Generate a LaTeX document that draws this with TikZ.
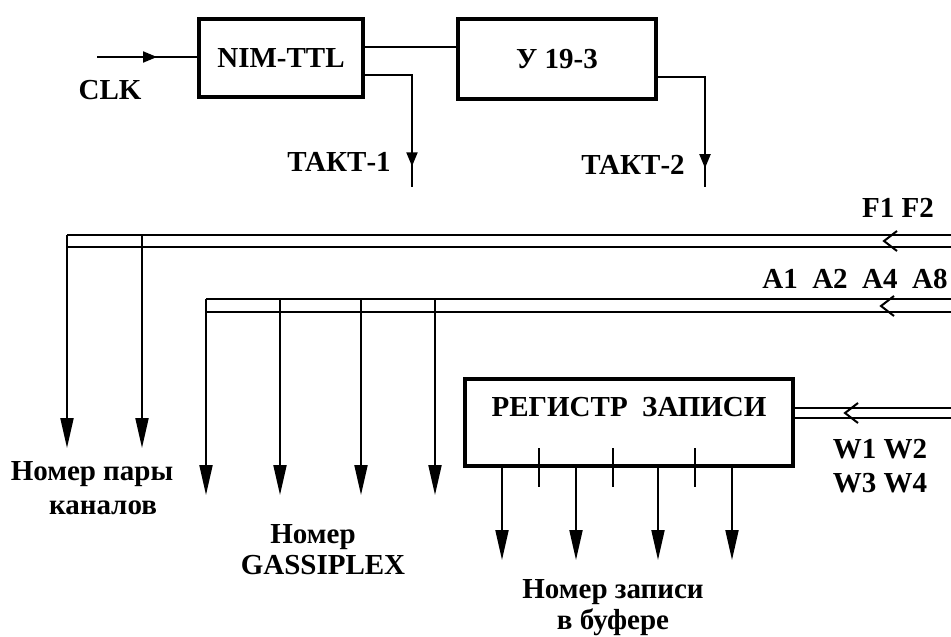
\documentclass[tikz,border=0pt]{standalone}
\usepackage{fontspec}
\setmainfont{Liberation Serif}
\usetikzlibrary{positioning,arrows.meta,decorations.markings}

\tikzset{
  wire/.style={line width=2pt},
  blok/.style={draw, line width=4pt, inner sep=0pt, font=\fontsize{29}{34}\selectfont\bfseries},
  lbl/.style={inner sep=0pt, align=center, font=\fontsize{29}{34}\selectfont\bfseries},
  outarr/.style={wire, -{Triangle[length=30pt,width=13pt]}},
  midarrow/.style={wire, postaction=decorate,
    decoration={markings, mark=at position #1 with {\arrow{Triangle[length=14pt,width=11pt]}}}},
  buscue/.pic={\draw[wire] (13,10) -- (0,0) -- (13,-10);}
}

\begin{document}
\begin{tikzpicture}[x=1pt,y=-1pt]
\useasboundingbox (0,0) rectangle (951,637);

% blocks
\node[blok, minimum width=164pt, minimum height=78pt] (nim) at (281,58) {NIM-TTL};
\node[blok, minimum width=198pt, minimum height=80pt] (amp) at (557,59) {У 19-3};
\node[blok, minimum width=328pt, minimum height=87pt] (reg) at (629,422) {};
\node[lbl] (regtxt) at (629,407) {РЕГИСТР\ \ ЗАПИСИ};

% clock chain
\coordinate (clkin) at (97,57);
\coordinate (t1) at (412,187);
\coordinate (t2) at (705,187);
\node[lbl] (clk) at (110,90) {CLK};
\draw[midarrow=0.6] (clkin) -- (clkin -| nim.west);
\draw[wire] ([yshift=11pt]nim.east) -- ([yshift=11pt]nim.east -| amp.west);
\draw[midarrow=0.87] ([yshift=-17pt]nim.east) -| (t1);
\draw[midarrow=0.88] ([yshift=-18pt]amp.east) -| (t2);
\node[lbl] (takt1) at (339,162) {ТАКТ-1};
\node[lbl] (takt2) at (633,165) {ТАКТ-2};

% bus F
\coordinate (fin1) at (951,235);
\coordinate (fin2) at (951,247);
\coordinate (fend1) at (67,235);
\coordinate (fend2) at (67,247);
\draw[wire] (fin1) -- (fend1) (fin2) -- (fend2);
\pic at (884,241) {buscue};
\node[lbl] (flbl) at (898,208) {F1 F2};
\foreach \x in {67,142}
  \draw[outarr] (\x,235) -- (\x,448);

% bus A
\coordinate (ain1) at (951,299);
\coordinate (ain2) at (951,312);
\coordinate (aend1) at (206,299);
\coordinate (aend2) at (206,312);
\draw[wire] (ain1) -- (aend1) (ain2) -- (aend2);
\pic at (881,306) {buscue};
\node[lbl] (albl) at (855,279) {A1~~A2~~A4~~A8};
\foreach \x in {206,280,361,435}
  \draw[outarr] (\x,299) -- (\x,495);

% bus W
\coordinate (win1) at (951,408);
\coordinate (win2) at (951,418);
\draw[wire] (win1) -- (win1 -| reg.east) (win2) -- (win2 -| reg.east);
\pic at (845,413) {buscue};
\node[lbl] (wlbl) at (880,466) {W1 W2\\W3 W4};

% register outputs
\foreach \x in {502,576,658,732}
  \draw[outarr] (\x,467) -- (\x,560);
\foreach \x in {539,613,695}
  \draw[wire] (\x,448) -- (\x,487);

% captions
\node[lbl] (pairs) at (92,488) {Номер пары\\\hspace*{22pt}каналов};
\node[lbl] (gass) at (323,550) {Номер\hspace*{20pt}\\[-3pt]GASSIPLEX};
\node[lbl] (addr) at (613,608) {Номер записи\\[-3pt]в буфере};
\end{tikzpicture}
\end{document}
